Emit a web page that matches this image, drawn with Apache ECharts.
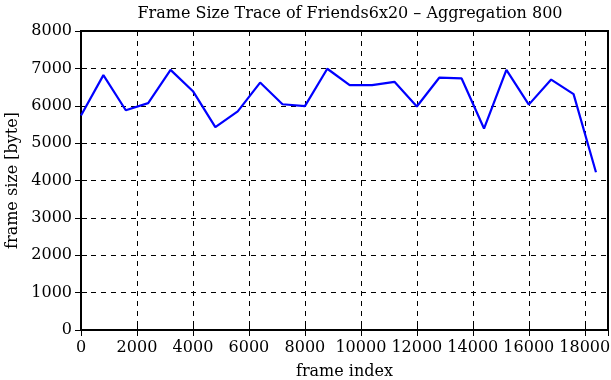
<!DOCTYPE html>
<html lang="en">
<head>
<meta charset="UTF-8">
<title>Frame Size Trace</title>
<style>
    body { margin: 0; padding: 0; background: #fff; }
    #chart { width: 611px; height: 380px; }
</style>
</head>
<body>
<script src="https://cdn.jsdelivr.net/npm/echarts@6/dist/echarts.min.js"></script>
<div id="chart"></div>
<script>
// 数据：每 800 帧聚合一次
var frameIndex = [0, 800, 1600, 2400, 3200, 4000, 4800, 5600, 6400, 7200, 8000, 8800,
    9600, 10400, 11200, 12000, 12800, 13600, 14400, 15200, 16000, 16800, 17600, 18400];
var frameSize = [5740, 6820, 5880, 6070, 6960, 6390, 5430, 5850, 6620, 6040, 5990, 6990,
    6550, 6550, 6640, 5980, 6750, 6730, 5390, 6960, 6030, 6700, 6310, 4220];
var xRange = [0, 18830];
var yRange = [0, 8000];

var myChart = echarts.init(document.getElementById('chart'));

var fontFamily = '"DejaVu Serif", "Liberation Serif", serif';
var fontSize = 16;
var dashed = { show: true, lineStyle: { color: '#000', type: [5, 5], width: 1 } };

var option = {
    animation: false,
    textStyle: { fontFamily: fontFamily, color: '#000' },
    title: {
        text: 'Frame Size Trace of Friends6x20 \u2013 Aggregation 800',
        left: 345,
        textAlign: 'center',
        top: 1,
        textStyle: { fontFamily: fontFamily, fontWeight: 'normal', fontSize: fontSize, color: '#000' }
    },
    grid: {
        left: 81, right: 3, top: 31, bottom: 50,
        outerBoundsMode: 'none',
        containLabel: false,
        show: true, borderColor: '#000', borderWidth: 2
    },
    xAxis: [{
        type: 'value',
        min: xRange[0], max: xRange[1], interval: 2000,
        name: 'frame index',
        nameLocation: 'middle',
        nameGap: 34,
        nameTextStyle: { fontFamily: fontFamily, fontSize: fontSize, color: '#000' },
        axisLine: { lineStyle: { color: '#000', width: 2 } },
        axisTick: { inside: true, length: 6, lineStyle: { color: '#000' } },
        axisLabel: {
            fontFamily: fontFamily, fontSize: fontSize, color: '#000', margin: 10,
            showMaxLabel: false,
            formatter: function (v) { return v % 2000 === 0 ? String(v) : ''; }
        },
        splitLine: dashed
    }, {
        type: 'value',
        position: 'top',
        min: xRange[0], max: xRange[1], interval: 2000,
        axisLine: { show: false },
        axisTick: { inside: true, length: 6, lineStyle: { color: '#000' } },
        axisLabel: { show: false },
        splitLine: { show: false }
    }],
    yAxis: [{
        type: 'value',
        min: yRange[0], max: yRange[1], interval: 1000,
        name: 'frame size [byte]',
        nameLocation: 'middle',
        nameGap: 58,
        nameTextStyle: { fontFamily: fontFamily, fontSize: fontSize, color: '#000' },
        axisLine: { show: true, lineStyle: { color: '#000', width: 2 } },
        axisTick: { show: true, inside: true, length: 6, lineStyle: { color: '#000' } },
        axisLabel: {
            fontFamily: fontFamily, fontSize: fontSize, color: '#000', margin: 9,
            formatter: function (v) { return String(v); }
        },
        splitLine: dashed
    }, {
        type: 'value',
        position: 'right',
        min: yRange[0], max: yRange[1], interval: 1000,
        axisLine: { show: false },
        axisTick: { show: true, inside: true, length: 6, lineStyle: { color: '#000' } },
        axisLabel: { show: false },
        splitLine: { show: false }
    }],
    series: [{
        name: 'frame size',
        type: 'line',
        data: frameIndex.map(function (x, i) { return [x, frameSize[i]]; }),
        showSymbol: false,
        lineStyle: { color: '#0000ff', width: 2.2 },
        itemStyle: { color: '#0000ff' },
        z: 5
    }]
};

myChart.setOption(option);
</script>
</body>
</html>
